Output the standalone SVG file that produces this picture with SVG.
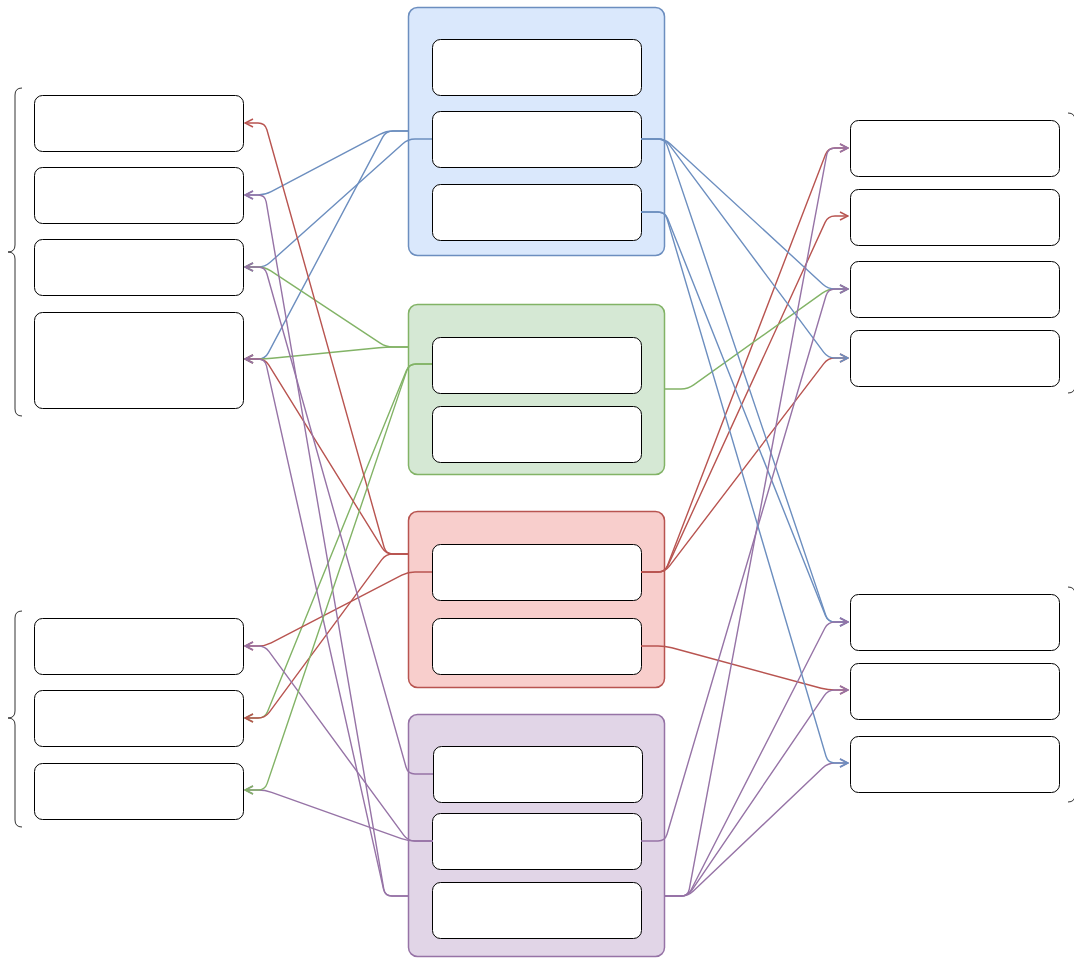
<svg xmlns="http://www.w3.org/2000/svg" width="1074" height="961" viewBox="0 0 1074 961">
<style>
.n{fill:#fff;stroke:#000;stroke-width:1}
.br{fill:none;stroke:#333;stroke-width:1}
.e{fill:none;stroke-width:1.4;stroke-linejoin:round}
.b{stroke:#6c8ebf}.g{stroke:#82b366}.r{stroke:#b85450}.p{stroke:#9673a6}
.b.e{marker-end:url(#mb)}.g.e{marker-end:url(#mg)}.r.e{marker-end:url(#mr)}.p.e{marker-end:url(#mp)}
</style>
<defs>
<marker id="mb" viewBox="0 0 10 10" refX="9" refY="5" markerWidth="10" markerHeight="10" markerUnits="userSpaceOnUse" orient="auto"><path d="M1,1 L9,5 L1,9" fill="none" stroke="#6c8ebf" stroke-width="1.5"/></marker>
<marker id="mg" viewBox="0 0 10 10" refX="9" refY="5" markerWidth="10" markerHeight="10" markerUnits="userSpaceOnUse" orient="auto"><path d="M1,1 L9,5 L1,9" fill="none" stroke="#82b366" stroke-width="1.5"/></marker>
<marker id="mr" viewBox="0 0 10 10" refX="9" refY="5" markerWidth="10" markerHeight="10" markerUnits="userSpaceOnUse" orient="auto"><path d="M1,1 L9,5 L1,9" fill="none" stroke="#b85450" stroke-width="1.5"/></marker>
<marker id="mp" viewBox="0 0 10 10" refX="9" refY="5" markerWidth="10" markerHeight="10" markerUnits="userSpaceOnUse" orient="auto"><path d="M1,1 L9,5 L1,9" fill="none" stroke="#9673a6" stroke-width="1.5"/></marker>
</defs>

<g id="braces">
<path class="br" d="M22,88 Q15,88 15,95 V245 Q15,252 8,252 Q15,252 15,259 V409 Q15,416 22,416"/>
<path class="br" d="M22,611 Q15,611 15,618 V711 Q15,718 8,718 Q15,718 15,725 V820 Q15,827 22,827"/>
<path class="br" d="M1068,113 Q1075,113 1075,120 V246 Q1075,253 1082,253 Q1075,253 1075,260 V386 Q1075,393 1068,393"/>
<path class="br" d="M1068,587 Q1075,587 1075,594 V688 Q1075,695 1082,695 Q1075,695 1075,702 V795 Q1075,802 1068,802"/>
</g>

<g id="group-blue"><rect x="408.5" y="7.5" width="256" height="248" rx="9" fill="#dae8fc" stroke="#6c8ebf" stroke-width="1.5"/></g>
<g id="group-green"><rect x="408.5" y="304.5" width="256" height="170" rx="9" fill="#d5e8d4" stroke="#82b366" stroke-width="1.5"/></g>
<g id="group-red"><rect x="408.5" y="511.5" width="256" height="176" rx="9" fill="#f8cecc" stroke="#b85450" stroke-width="1.5"/></g>
<g id="group-purple"><rect x="408.5" y="714.5" width="256" height="242" rx="9" fill="#e1d5e7" stroke="#9673a6" stroke-width="1.5"/></g>

<g id="left-1"><rect class="n" x="34.5" y="95.5" width="209" height="56" rx="8"/></g>
<g id="left-2"><rect class="n" x="34.5" y="167.5" width="209" height="56" rx="8"/></g>
<g id="left-3"><rect class="n" x="34.5" y="239.5" width="209" height="56" rx="8"/></g>
<g id="left-4"><rect class="n" x="34.5" y="312.5" width="209" height="96" rx="8"/></g>
<g id="left-5"><rect class="n" x="34.5" y="618.5" width="209" height="56" rx="8"/></g>
<g id="left-6"><rect class="n" x="34.5" y="690.5" width="209" height="56" rx="8"/></g>
<g id="left-7"><rect class="n" x="34.5" y="763.5" width="209" height="56" rx="8"/></g>

<g id="blue-1"><rect class="n" x="432.5" y="39.5" width="209" height="56" rx="8"/></g>
<g id="blue-2"><rect class="n" x="432.5" y="111.5" width="209" height="56" rx="8"/></g>
<g id="blue-3"><rect class="n" x="432.5" y="184.5" width="209" height="56" rx="8"/></g>
<g id="green-1"><rect class="n" x="432.5" y="337.5" width="209" height="56" rx="8"/></g>
<g id="green-2"><rect class="n" x="432.5" y="406.5" width="209" height="56" rx="8"/></g>
<g id="red-1"><rect class="n" x="432.5" y="544.5" width="209" height="56" rx="8"/></g>
<g id="red-2"><rect class="n" x="432.5" y="618.5" width="209" height="56" rx="8"/></g>
<g id="purple-1"><rect class="n" x="433.5" y="746.5" width="209" height="56" rx="8"/></g>
<g id="purple-2"><rect class="n" x="432.5" y="813.5" width="209" height="56" rx="8"/></g>
<g id="purple-3"><rect class="n" x="432.5" y="882.5" width="209" height="56" rx="8"/></g>

<g id="right-1"><rect class="n" x="850.5" y="120.5" width="209" height="56" rx="8"/></g>
<g id="right-2"><rect class="n" x="850.5" y="189.5" width="209" height="56" rx="8"/></g>
<g id="right-3"><rect class="n" x="850.5" y="261.5" width="209" height="56" rx="8"/></g>
<g id="right-4"><rect class="n" x="850.5" y="330.5" width="209" height="56" rx="8"/></g>
<g id="right-5"><rect class="n" x="850.5" y="594.5" width="209" height="56" rx="8"/></g>
<g id="right-6"><rect class="n" x="850.5" y="663.5" width="209" height="56" rx="8"/></g>
<g id="right-7"><rect class="n" x="850.5" y="736.5" width="209" height="56" rx="8"/></g>

<g id="connectors">
<path class="e b" d="M408,131 H393 Q386,131 379.8,134.3 L271.2,191.7 Q265,195 258,195 H245"/>
<path class="e b" d="M408,131 H393 Q386,131 382.7,137.2 L268.3,352.8 Q265,359 258,359 H245"/>
<path class="e b" d="M432,139 H415 Q408,139 402.8,143.7 L270.2,262.3 Q265,267 258,267 H245"/>
<path class="e g" d="M408,347 H393 Q386,347 380.2,343.1 L270.8,270.9 Q265,267 258,267 H245"/>
<path class="e g" d="M408,347 H393 Q386,347 379,347.7 L272,358.3 Q265,359 258,359 H245"/>
<path class="e g" d="M432,364 H416 Q409,364 406.4,370.5 L267.6,711.5 Q265,718 258,718 H245"/>
<path class="e r" d="M408,554 H393 Q386,554 384.1,547.3 L266.9,129.7 Q265,123 258,123 H245"/>
<path class="e r" d="M408,554 H393 Q386,554 382.3,548.1 L268.7,364.9 Q265,359 258,359 H245"/>
<path class="e r" d="M408,554 H393 Q386,554 381.8,559.6 L269.2,712.4 Q265,718 258,718 H245"/>
<path class="e r" d="M432,572 H415 Q408,572 401.8,575.2 L271.2,642.8 Q265,646 258,646 H245"/>
<path class="e p" d="M433,774 H415 Q408,774 406.1,767.3 L266.9,273.7 Q265,267 258,267 H245"/>
<path class="e p" d="M433,841 H415 Q408,841 403.9,835.4 L269.1,651.6 Q265,646 258,646 H245"/>
<path class="e p" d="M433,841 H415 Q408,841 401.4,838.6 L271.6,792.4 Q265,790 258,790 H245"/>
<path class="e p" d="M408,896 H392 Q385,896 383.8,889.1 L266.2,201.9 Q265,195 258,195 H245"/>
<path class="e p" d="M408,896 H392 Q385,896 383.5,889.2 L266.5,365.8 Q265,359 258,359 H245"/>
<path class="e g" d="M432,364 H416 Q409,364 406.8,370.6 L267.2,783.4 Q265,790 258,790 H245"/>

<path class="e r" d="M641,572 H658 Q665,572 667.5,565.5 L825.5,154.5 Q828,148 835,148 H848"/>
<path class="e r" d="M641,572 H658 Q665,572 667.9,565.6 L825.1,222.4 Q828,216 835,216 H848"/>
<path class="e r" d="M641,572 H658 Q665,572 669.2,566.4 L823.8,363.6 Q828,358 835,358 H848"/>
<path class="e r" d="M641,646 H658 Q665,646 671.8,647.8 L821.2,688.2 Q828,690 835,690 H848"/>
<path class="e g" d="M665,389 H681 Q688,389 693.7,384.9 L822.3,293.1 Q828,289 835,289 H848"/>
<path class="e b" d="M641,139 H658 Q665,139 670.2,143.7 L822.8,284.3 Q828,289 835,289 H848"/>
<path class="e b" d="M641,139 H658 Q665,139 669.2,144.6 L823.8,352.4 Q828,358 835,358 H848"/>
<path class="e b" d="M641,139 H658 Q665,139 667.2,145.6 L825.8,615.4 Q828,622 835,622 H848"/>
<path class="e b" d="M641,212 H658 Q665,212 667.6,218.5 L825.4,615.5 Q828,622 835,622 H848"/>
<path class="e p" d="M641,841 H658 Q665,841 667,834.3 L826,295.7 Q828,289 835,289 H848"/>
<path class="e p" d="M665,896 H681 Q688,896 689.3,889.1 L826.7,154.9 Q828,148 835,148 H848"/>
<path class="e p" d="M665,896 H681 Q688,896 691.2,889.8 L824.8,628.2 Q828,622 835,622 H848"/>
<path class="e p" d="M665,896 H681 Q688,896 691.9,890.2 L824.1,695.8 Q828,690 835,690 H848"/>
<path class="e p" d="M665,896 H681 Q688,896 693.1,891.2 L822.9,767.8 Q828,763 835,763 H848"/>
<path class="e b" d="M641,212 H658 Q665,212 667,218.7 L826,756.3 Q828,763 835,763 H848"/>
</g>
</svg>
